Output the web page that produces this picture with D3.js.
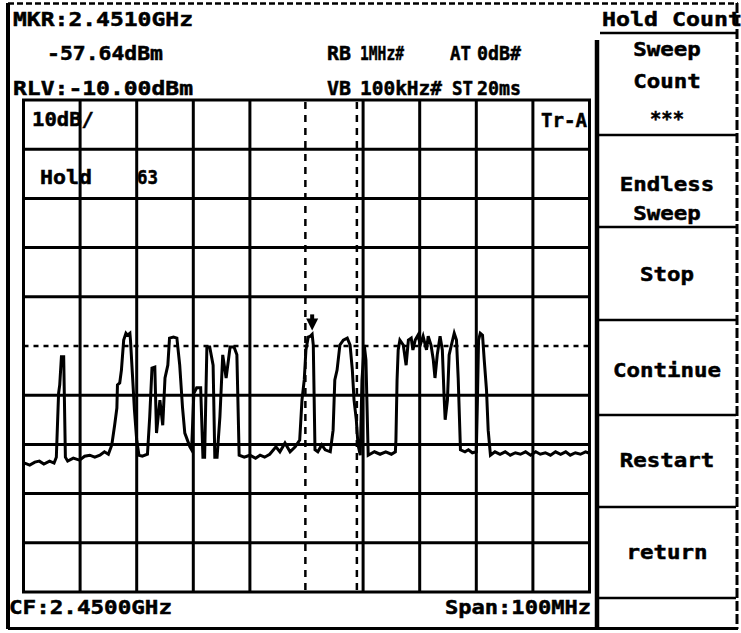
<!DOCTYPE html>
<html>
<head>
<meta charset="utf-8">
<script src="https://cdn.jsdelivr.net/npm/d3@7"></script>
<style>
  html, body { margin: 0; padding: 0; background: #fff; }
  svg { display: block; }
  text { font-family: "DejaVu Sans Mono", "Liberation Mono", monospace; font-weight: bold; fill: #000; stroke: #000; stroke-width: 0.5; }
</style>
</head>
<body>
<svg id="screen" width="741" height="633"></svg>
<script>
// Spectrum settings shown on screen
const startMHz = 2400, stopMHz = 2500;
const refLevel = -10, dbPerDiv = 10, divisions = 10;
const displayLine = -60;
const markerMHz = 2451.0, markerDbm = -57.64;
const cursorLinesMHz = [2449.8, 2458.9];
const gridFreqs = d3.range(2400, 2501, 10);
const gridLevels = d3.range(-10, -111, -10);

const headerLeft = ["MKR:2.4510GHz", "-57.64dBm", "RLV:-10.00dBm"];
const headerRB = ["RB", "1MHz#", "AT", "0dB#"];
const headerVB = ["VB", "100kHz#", "ST", "20ms"];
const menuTitle = "Hold Count";
const menuItems = [["Sweep", "Count", "***"], ["Endless", "Sweep"], ["Stop"], ["Continue"], ["Restart"], ["return"], []];
const footer = ["CF:2.4500GHz", "Span:100MHz"];
const holdCount = 63;

// Max-hold trace: [frequency MHz, level dBm]
const hold = [
  [2400.2,-83.8],[2401.1,-84.2],[2402.0,-83.6],[2402.8,-83.4],[2403.6,-84.0],[2404.6,-83.4],[2405.4,-83.8],[2405.8,-82.6],
  [2406.2,-69.6],[2406.4,-67.9],[2406.7,-62.2],[2407.1,-62.2],[2407.4,-82.6],[2407.8,-83.4],[2408.8,-82.8],[2409.9,-83.2],
  [2410.8,-82.4],[2411.7,-82.2],[2412.6,-82.6],[2413.5,-82.2],[2414.3,-81.5],[2415.0,-82.0],[2415.6,-80.1],[2416.1,-76.1],
  [2416.5,-72.6],[2416.6,-67.9],[2417.0,-67.5],[2417.3,-64.9],[2417.7,-58.8],[2418.1,-57.4],[2418.4,-57.8],[2418.8,-57.4],
  [2418.9,-58.8],[2419.3,-66.9],[2419.6,-73.0],[2420.0,-79.1],[2420.4,-82.2],[2421.0,-82.4],[2421.9,-82.0],[2422.3,-74.4],
  [2422.7,-64.5],[2423.2,-64.3],[2423.5,-77.7],[2424.1,-71.0],[2424.6,-76.1],[2425.0,-66.5],[2425.5,-63.9],[2425.8,-58.4],
  [2426.5,-58.2],[2427.1,-58.4],[2427.6,-63.9],[2428.1,-72.6],[2428.5,-77.7],[2429.4,-80.5],[2429.7,-81.1],[2430.1,-69.6],
  [2430.6,-68.5],[2431.3,-68.5],[2431.7,-82.6],[2432.0,-82.6],[2432.4,-60.2],[2432.9,-60.2],[2433.5,-63.9],[2433.8,-82.6],
  [2434.2,-82.6],[2434.7,-74.4],[2435.2,-61.8],[2435.8,-66.5],[2436.5,-60.2],[2437.2,-60.2],[2437.7,-61.8],[2438.1,-82.2],
  [2439.0,-82.6],[2440.0,-82.2],[2441.0,-82.8],[2441.8,-82.2],[2442.6,-82.6],[2443.5,-82.0],[2444.6,-80.5],[2445.3,-81.5],
  [2446.2,-79.7],[2447.1,-81.5],[2448.0,-80.5],[2448.8,-79.1],[2449.2,-71.0],[2449.6,-66.9],[2449.9,-60.8],[2450.3,-58.2],
  [2450.7,-58.0],[2451.0,-57.64],[2451.2,-59.8],[2451.5,-81.1],[2452.0,-81.5],[2452.7,-80.1],[2453.3,-81.1],[2454.2,-81.5],
  [2454.7,-77.1],[2455.0,-66.9],[2455.4,-64.9],[2455.9,-59.8],[2456.5,-58.8],[2457.2,-58.4],[2457.7,-59.8],[2458.1,-64.9],
  [2458.4,-71.0],[2458.8,-75.0],[2459.1,-80.1],[2459.5,-82.2],[2459.8,-66.9],[2460.2,-59.8],[2460.5,-62.8],[2460.9,-82.2],
  [2462.0,-81.5],[2463.0,-82.0],[2464.0,-81.5],[2465.0,-82.0],[2465.7,-81.5],[2465.8,-79.1],[2466.0,-66.9],[2466.2,-60.8],
  [2466.5,-58.8],[2467.1,-59.8],[2467.6,-63.9],[2468.0,-58.8],[2468.5,-58.4],[2468.8,-60.8],[2469.2,-58.8],[2469.7,-57.8],
  [2470.1,-59.8],[2470.6,-58.0],[2471.2,-60.8],[2471.5,-58.0],[2472.0,-59.8],[2472.4,-62.8],[2472.7,-66.5],[2473.1,-61.8],
  [2473.6,-58.0],[2474.0,-60.8],[2474.3,-70.0],[2474.5,-75.0],[2474.9,-71.0],[2475.2,-61.8],[2475.6,-59.8],[2476.1,-57.4],
  [2476.5,-58.8],[2476.8,-66.5],[2477.2,-81.1],[2478.0,-81.5],[2478.6,-81.1],[2479.3,-81.7],[2480.0,-81.5],[2480.2,-71.0],
  [2480.4,-58.8],[2480.7,-57.4],[2481.1,-57.8],[2481.4,-62.8],[2481.8,-68.9],[2482.1,-77.1],[2482.5,-82.2],[2483.3,-81.5],
  [2484.2,-82.0],[2485.1,-81.5],[2486.0,-82.2],[2486.9,-81.7],[2487.8,-82.0],[2488.7,-81.5],[2489.6,-82.2],[2490.5,-81.5],
  [2491.3,-82.0],[2492.2,-81.7],[2493.1,-82.2],[2494.0,-81.5],[2494.9,-82.0],[2495.8,-81.5],[2496.6,-82.2],[2497.5,-81.7],
  [2498.4,-82.0],[2499.3,-81.5],[2500.0,-81.8]
];

const svg = d3.select("#screen");
svg.append("rect").attr("width", 741).attr("height", 633).attr("fill", "#fff");

const plot = { left: 23.5, right: 589.5, top: 100, bottom: 592 };
const x = d3.scaleLinear().domain([startMHz, stopMHz]).range([plot.left, plot.right]);
const y = d3.scaleLinear().domain([refLevel - dbPerDiv * divisions, refLevel]).range([plot.bottom, plot.top]);

function label(str, px, py, len, anchor) {
  const t = svg.append("text").attr("x", px).attr("y", py).attr("font-size", 20)
    .attr("text-anchor", anchor || "start").text(str);
  if (len) t.attr("textLength", len).attr("lengthAdjust", "spacingAndGlyphs");
  return t;
}
function hline(x1, x2, yy, w, dash) {
  const l = svg.append("line").attr("x1", x1).attr("x2", x2).attr("y1", yy).attr("y2", yy)
    .attr("stroke", "#000").attr("stroke-width", w);
  if (dash) l.attr("stroke-dasharray", dash);
  return l;
}
function vline(xx, y1, y2, w, dash) {
  const l = svg.append("line").attr("x1", xx).attr("x2", xx).attr("y1", y1).attr("y2", y2)
    .attr("stroke", "#000").attr("stroke-width", w);
  if (dash) l.attr("stroke-dasharray", dash);
  return l;
}

// Outer instrument frame
vline(8, 3, 629, 4);
hline(8, 738, 3.5, 2.5, "6,3");
vline(737, 3, 629, 3, "10,3");
hline(8, 738, 628.5, 3);

// Header readouts
label(headerLeft[0], 13, 26, 180);
label(headerLeft[1], 47, 60, 116);
label(headerLeft[2], 13, 95, 180);
label(headerRB[0], 327, 60, 24);
label(headerRB[1], 360, 60, 44);
label(headerRB[2], 450, 60, 21);
label(headerRB[3], 477, 60, 44);
label(headerVB[0], 327, 95, 24);
label(headerVB[1], 360, 95, 82);
label(headerVB[2], 452, 95, 21);
label(headerVB[3], 477, 95, 44);

// Graticule
gridFreqs.filter(f => f !== 2450).forEach(f => vline(x(f), plot.top, plot.bottom, 3));
gridLevels.filter(l => l !== displayLine).forEach(l => hline(plot.left - 1.5, plot.right + 1.5, y(l), 3));
hline(plot.left, plot.right, y(displayLine), 2.5, "5,5");
cursorLinesMHz.forEach(f => vline(x(f), plot.top + 2, plot.bottom, 2.5, "7,6"));

// Divider between graticule and soft-key menu
vline(597, 40, 628, 4.5);

// Graticule annotations
label("10dB/", 32, 126, 62);
label("Tr-A", 587, 127, 46, "end");
label("Hold", 40, 184, 52);
label(String(holdCount), 137, 184, 21);

// Max-hold trace
const line = d3.line().x(d => x(d[0])).y(d => y(d[1]));
svg.append("path").datum(hold).attr("d", line)
  .attr("fill", "none").attr("stroke", "#000").attr("stroke-width", 3)
  .attr("stroke-linejoin", "miter");

// Marker symbol above the marked point
const mx = x(markerMHz), my = y(markerDbm);
svg.append("path")
  .attr("d", `M${mx - 6},${my - 16} L${mx + 6},${my - 16} L${mx},${my - 4} Z`)
  .attr("fill", "#000");
svg.append("rect").attr("x", mx - 2).attr("y", my - 20).attr("width", 4).attr("height", 6).attr("fill", "#000");

// Footer
label(footer[0], 9, 614, 163);
label(footer[1], 591, 614, 146, "end");

// Soft-key menu
const menuX0 = 599, menuX1 = 736, menuCx = 667;
label(menuTitle, 602, 26, 140);
hline(600, 737, 33, 2.5);
const boxEdges = [36, 135, 227, 320, 415, 507, 598, 628];
boxEdges.slice(1, 7).forEach(e => hline(menuX0, menuX1, e, 2.5));
const itemLines = [
  [56, 88, 125],
  [191, 220],
  [281],
  [377],
  [467],
  [559],
  []
];
menuItems.forEach((item, i) => {
  item.forEach((s, j) => {
    const len = s.length * 13.5;
    label(s, menuCx, itemLines[i][j], s === "***" ? 34 : len, "middle");
  });
});
</script>
</body>
</html>
